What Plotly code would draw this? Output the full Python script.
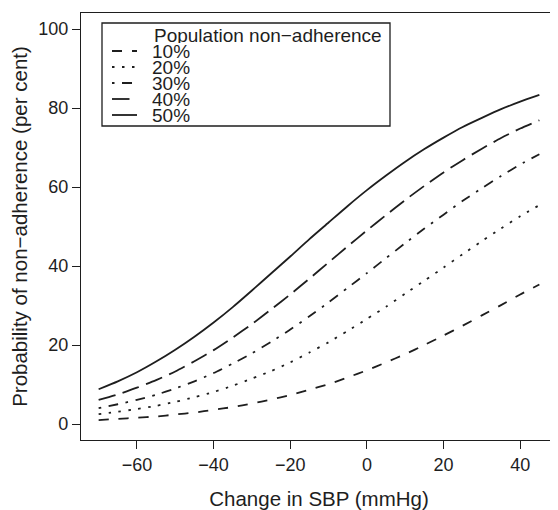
import plotly.graph_objects as go

# ---- data ----
sbp_change = [-70, -65, -60, -55, -50, -45, -40, -35, -30, -25, -20, -15,
              -10, -5, 0, 5, 10, 15, 20, 25, 30, 35, 40, 45]
p10 = [1.0, 1.3, 1.6, 1.9, 2.4, 2.9, 3.6, 4.3, 5.2, 6.2, 7.3, 8.7,
       10.1, 11.8, 13.6, 15.6, 17.7, 20.0, 22.4, 24.9, 27.5, 30.1, 32.8, 35.3]
p20 = [2.5, 3.1, 3.8, 4.6, 5.6, 6.8, 8.1, 9.7, 11.5, 13.4, 15.6, 18.1,
       20.7, 23.6, 26.6, 29.7, 33.0, 36.3, 39.6, 43.0, 46.3, 49.5, 52.6, 55.4]
p30 = [4.0, 5.0, 6.1, 7.4, 9.0, 10.8, 12.9, 15.3, 17.9, 20.8, 23.9, 27.3,
       30.8, 34.5, 38.2, 42.0, 45.8, 49.5, 53.0, 56.5, 59.7, 62.8, 65.7, 68.3]
p40 = [6.1, 7.5, 9.2, 11.1, 13.3, 15.9, 18.7, 21.9, 25.3, 29.0, 32.8, 36.8,
       40.9, 45.0, 49.0, 52.9, 56.7, 60.3, 63.7, 66.8, 69.7, 72.4, 74.8, 76.9]
p50 = [8.8, 10.8, 13.1, 15.8, 18.8, 22.1, 25.7, 29.6, 33.8, 38.1, 42.4, 46.8,
       51.0, 55.2, 59.2, 62.9, 66.4, 69.6, 72.5, 75.2, 77.5, 79.7, 81.6, 83.3]

series_labels = ["10%", "20%", "30%", "40%", "50%"]
series_values = [p10, p20, p30, p40, p50]
legend_title = "Population non\u2212adherence"
x_title = "Change in SBP (mmHg)"
y_title = "Probability of non\u2212adherence (per cent)"
x_ticks = [-60, -40, -20, 0, 20, 40]
y_ticks = [0, 20, 40, 60, 80, 100]

# ---- styling ----
# the page body has an 8px margin, so the figure is sized/offset for it
OFF = 8
W, H = 558 - OFF, 510 - OFF
ML, MR, MT, MB = 81 - OFF, 1, 13 - OFF, 70
INK = "#1e1e1e"
FONT = "Liberation Sans, Arial, sans-serif"
dashes = ["10px,10px", "2.5px,7.5px", "2.5px,7.5px,10px,7.5px",
          "17.5px,7.5px", "solid"]

fig = go.Figure()
for lab, vals, d in zip(series_labels, series_values, dashes):
    fig.add_trace(go.Scatter(
        x=sbp_change, y=vals, mode="lines", name=lab, showlegend=False,
        line=dict(color=INK, width=1.8, dash=d, shape="spline", smoothing=0.6),
    ))

pw, ph = W - ML - MR, H - MT - MB


def px2x(px):
    # px in page pixels of the reference
    return (px - OFF - ML) / pw


def py2y(py):
    return (H - MB - (py - OFF)) / ph


# manual legend (R-style compact box)
shapes = [dict(type="rect", xref="paper", yref="paper",
               x0=px2x(102), x1=px2x(390), y0=py2y(126), y1=py2y(23),
               line=dict(color=INK, width=1.3), fillcolor="rgba(0,0,0,0)")]
annotations = [dict(text=legend_title, xref="paper", yref="paper",
                    x=px2x(152), y=py2y(35), xanchor="left", yanchor="middle",
                    showarrow=False, height=16, valign="middle",
                    font=dict(size=19, color=INK, family=FONT))]
for i, (lab, d) in enumerate(zip(series_labels, dashes)):
    yy = 51 + 16 * i
    shapes.append(dict(type="line", xref="paper", yref="paper",
                       x0=px2x(112), x1=px2x(137), y0=py2y(yy), y1=py2y(yy),
                       line=dict(color=INK, width=1.8, dash=d)))
    annotations.append(dict(text=lab, xref="paper", yref="paper",
                            x=px2x(150), y=py2y(yy), xanchor="left",
                            yanchor="middle", showarrow=False,
                            height=16, valign="middle",
                            font=dict(size=19, color=INK, family=FONT)))

axis_common = dict(
    showline=True, mirror=True, linecolor=INK, linewidth=1.3,
    ticks="outside", ticklen=8, tickwidth=1.3, tickcolor=INK,
    showgrid=False, zeroline=False,
    tickfont=dict(size=18, color=INK, family=FONT),
)

fig.update_layout(
    width=W, height=H,
    margin=dict(l=ML, r=MR, t=MT, b=MB, autoexpand=False),
    paper_bgcolor="white", plot_bgcolor="white",
    font=dict(family=FONT, color=INK),
    xaxis=dict(range=[-74.6, 49.6], tickvals=x_ticks,
               title=dict(text=x_title, font=dict(size=20.5, color=INK, family=FONT),
                          standoff=17),
               **axis_common),
    yaxis=dict(range=[-4.05, 104.05], tickvals=y_ticks,
               title=dict(text=y_title, font=dict(size=20.5, color=INK, family=FONT),
                          standoff=9),
               **axis_common),
    shapes=shapes, annotations=annotations,
    showlegend=False,
)

fig.write_html("out.html")
